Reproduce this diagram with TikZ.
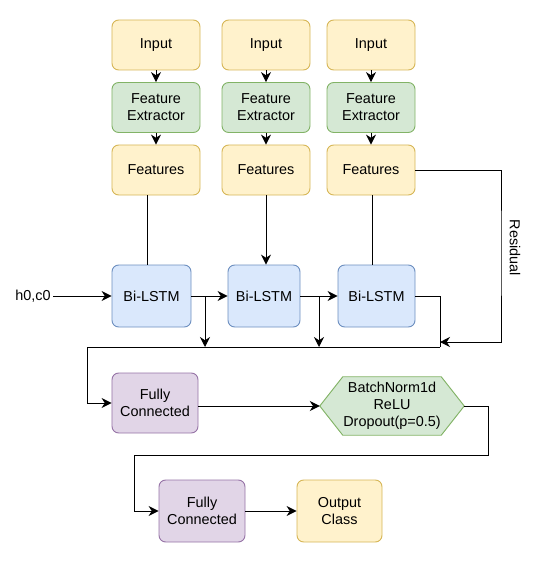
\documentclass[tikz,border=0pt]{standalone}
\usepackage{fontspec}
\setmainfont{Liberation Sans}
\usetikzlibrary{arrows.meta,calc}
\pgfdeclarelayer{background}
\pgfsetlayers{background,main}
\definecolor{inyellow}{HTML}{FFF2CC}
\definecolor{inyellowline}{HTML}{D6B656}
\definecolor{fegreen}{HTML}{D5E8D4}
\definecolor{fegreenline}{HTML}{82B366}
\definecolor{lstmblue}{HTML}{DAE8FC}
\definecolor{lstmblueline}{HTML}{6C8EBF}
\definecolor{fcpurple}{HTML}{E1D5E7}
\definecolor{fcpurpleline}{HTML}{9673A6}

\begin{document}
\begin{tikzpicture}[x=0.03cm,y=-0.03cm,
  every node/.style={font=\fontsize{12.3}{14.5}\selectfont,align=center,inner sep=2pt},
  box/.style={rectangle,rounded corners=0.2cm,line width=0.8pt,minimum height=1.5cm},
  yellowbox/.style={box,draw=inyellowline,fill=inyellow,minimum width=2.64cm},
  greenbox/.style={box,draw=fegreenline,fill=fegreen,minimum width=2.64cm},
  lstmbox/.style={box,draw=lstmblueline,fill=lstmblue,minimum height=1.86cm},
  fcbox/.style={box,draw=fcpurpleline,fill=fcpurple,minimum width=2.58cm},
  conn/.style={line width=0.8pt,-{Stealth[length=8.5pt,width=8.5pt]}},
  wire/.style={line width=0.8pt}]
\useasboundingbox (0,0) rectangle (546,564);

% inputs, extractors, features
\node[yellowbox] (in1) at (156,45) {Input};
\node[yellowbox] (in2) at (266,45) {Input};
\node[yellowbox] (in3) at (371,45) {Input};
\node[greenbox] (fe1) at (156,107.5) {Feature\\Extractor};
\node[greenbox] (fe2) at (266,107.5) {Feature\\Extractor};
\node[greenbox] (fe3) at (371,107.5) {Feature\\Extractor};
\node[yellowbox] (f1) at (156,170) {Features};
\node[yellowbox] (f2) at (266,170) {Features};
\node[yellowbox] (f3) at (371,170) {Features};

\draw[conn] (in1) -- (fe1);
\draw[conn] (in2) -- (fe2);
\draw[conn] (in3) -- (fe3);
\draw[conn] (fe1) -- (f1);
\draw[conn] (fe2) -- (f2);
\draw[conn] (fe3) -- (f3);

% recurrent part
\node (h0) at (33,296) {h0,c0};
\node[lstmbox,minimum width=2.37cm] (l1) at (151.5,296) {Bi-LSTM};
\node[lstmbox,minimum width=2.16cm] (l2) at (264,296) {Bi-LSTM};
\node[lstmbox,minimum width=2.31cm] (l3) at (376.5,296) {Bi-LSTM};

\draw[wire] ([xshift=-0.27cm]f1.south) -- ([xshift=-0.27cm]f1.south |- l1.north);
\draw[conn] (f2.south) -- (f2.south |- l2.north);
\draw[wire] ([xshift=0.03cm]f3.south) -- ([xshift=0.03cm]f3.south |- l3.north);

\draw[conn] (h0) -- (l1);
\draw[conn] (l1) -- (l2);
\draw[conn] (l2) -- (l3);

\coordinate (b1) at (205,347);
\coordinate (b2) at (319,347);
\coordinate (bend) at (440,347);
\coordinate (res) at (440,342);
\draw[conn] (b1 |- l1.east) -- (b1);
\draw[conn] (b2 |- l2.east) -- (b2);
\draw[wire] (l3.east) -| (bend);
\draw[conn] (f3.east) -| (501,250) |- (res);
\node[rotate=-90] (reslabel) at (515,248) {Residual};

% head
\node[fcbox,minimum height=1.8cm] (fc1) at (155,403) {Fully\\Connected};
\node[minimum width=4.32cm,minimum height=1.74cm] (bn) at (392,406) {BatchNorm1d\\ReLU\\Dropout(p=0.5)};
\begin{pgfonlayer}{background}
\draw[line width=0.8pt,draw=fegreenline,fill=fegreen]
  (bn.west) -- ([xshift=0.69cm]bn.north west) -- ([xshift=-0.69cm]bn.north east)
  -- (bn.east) -- ([xshift=-0.69cm]bn.south east) -- ([xshift=0.69cm]bn.south west) -- cycle;
\end{pgfonlayer}

\draw[wire] (bend) -- (87,347) -- (87,403);
\draw[conn] (87,403) -- (fc1.west);
\draw[conn] (bn.west -| fc1.east) -- (bn.west);

\node[fcbox,minimum height=1.86cm] (fc2) at (202,511) {Fully\\Connected};
\node[yellowbox,minimum width=2.55cm,minimum height=1.86cm] (out) at (339.5,511) {Output\\Class};
\draw[conn] (bn.east) -- (488,406) -- (488,455) -- (134,455) |- (fc2.west);
\draw[conn] (fc2) -- (out);
\end{tikzpicture}
\end{document}
